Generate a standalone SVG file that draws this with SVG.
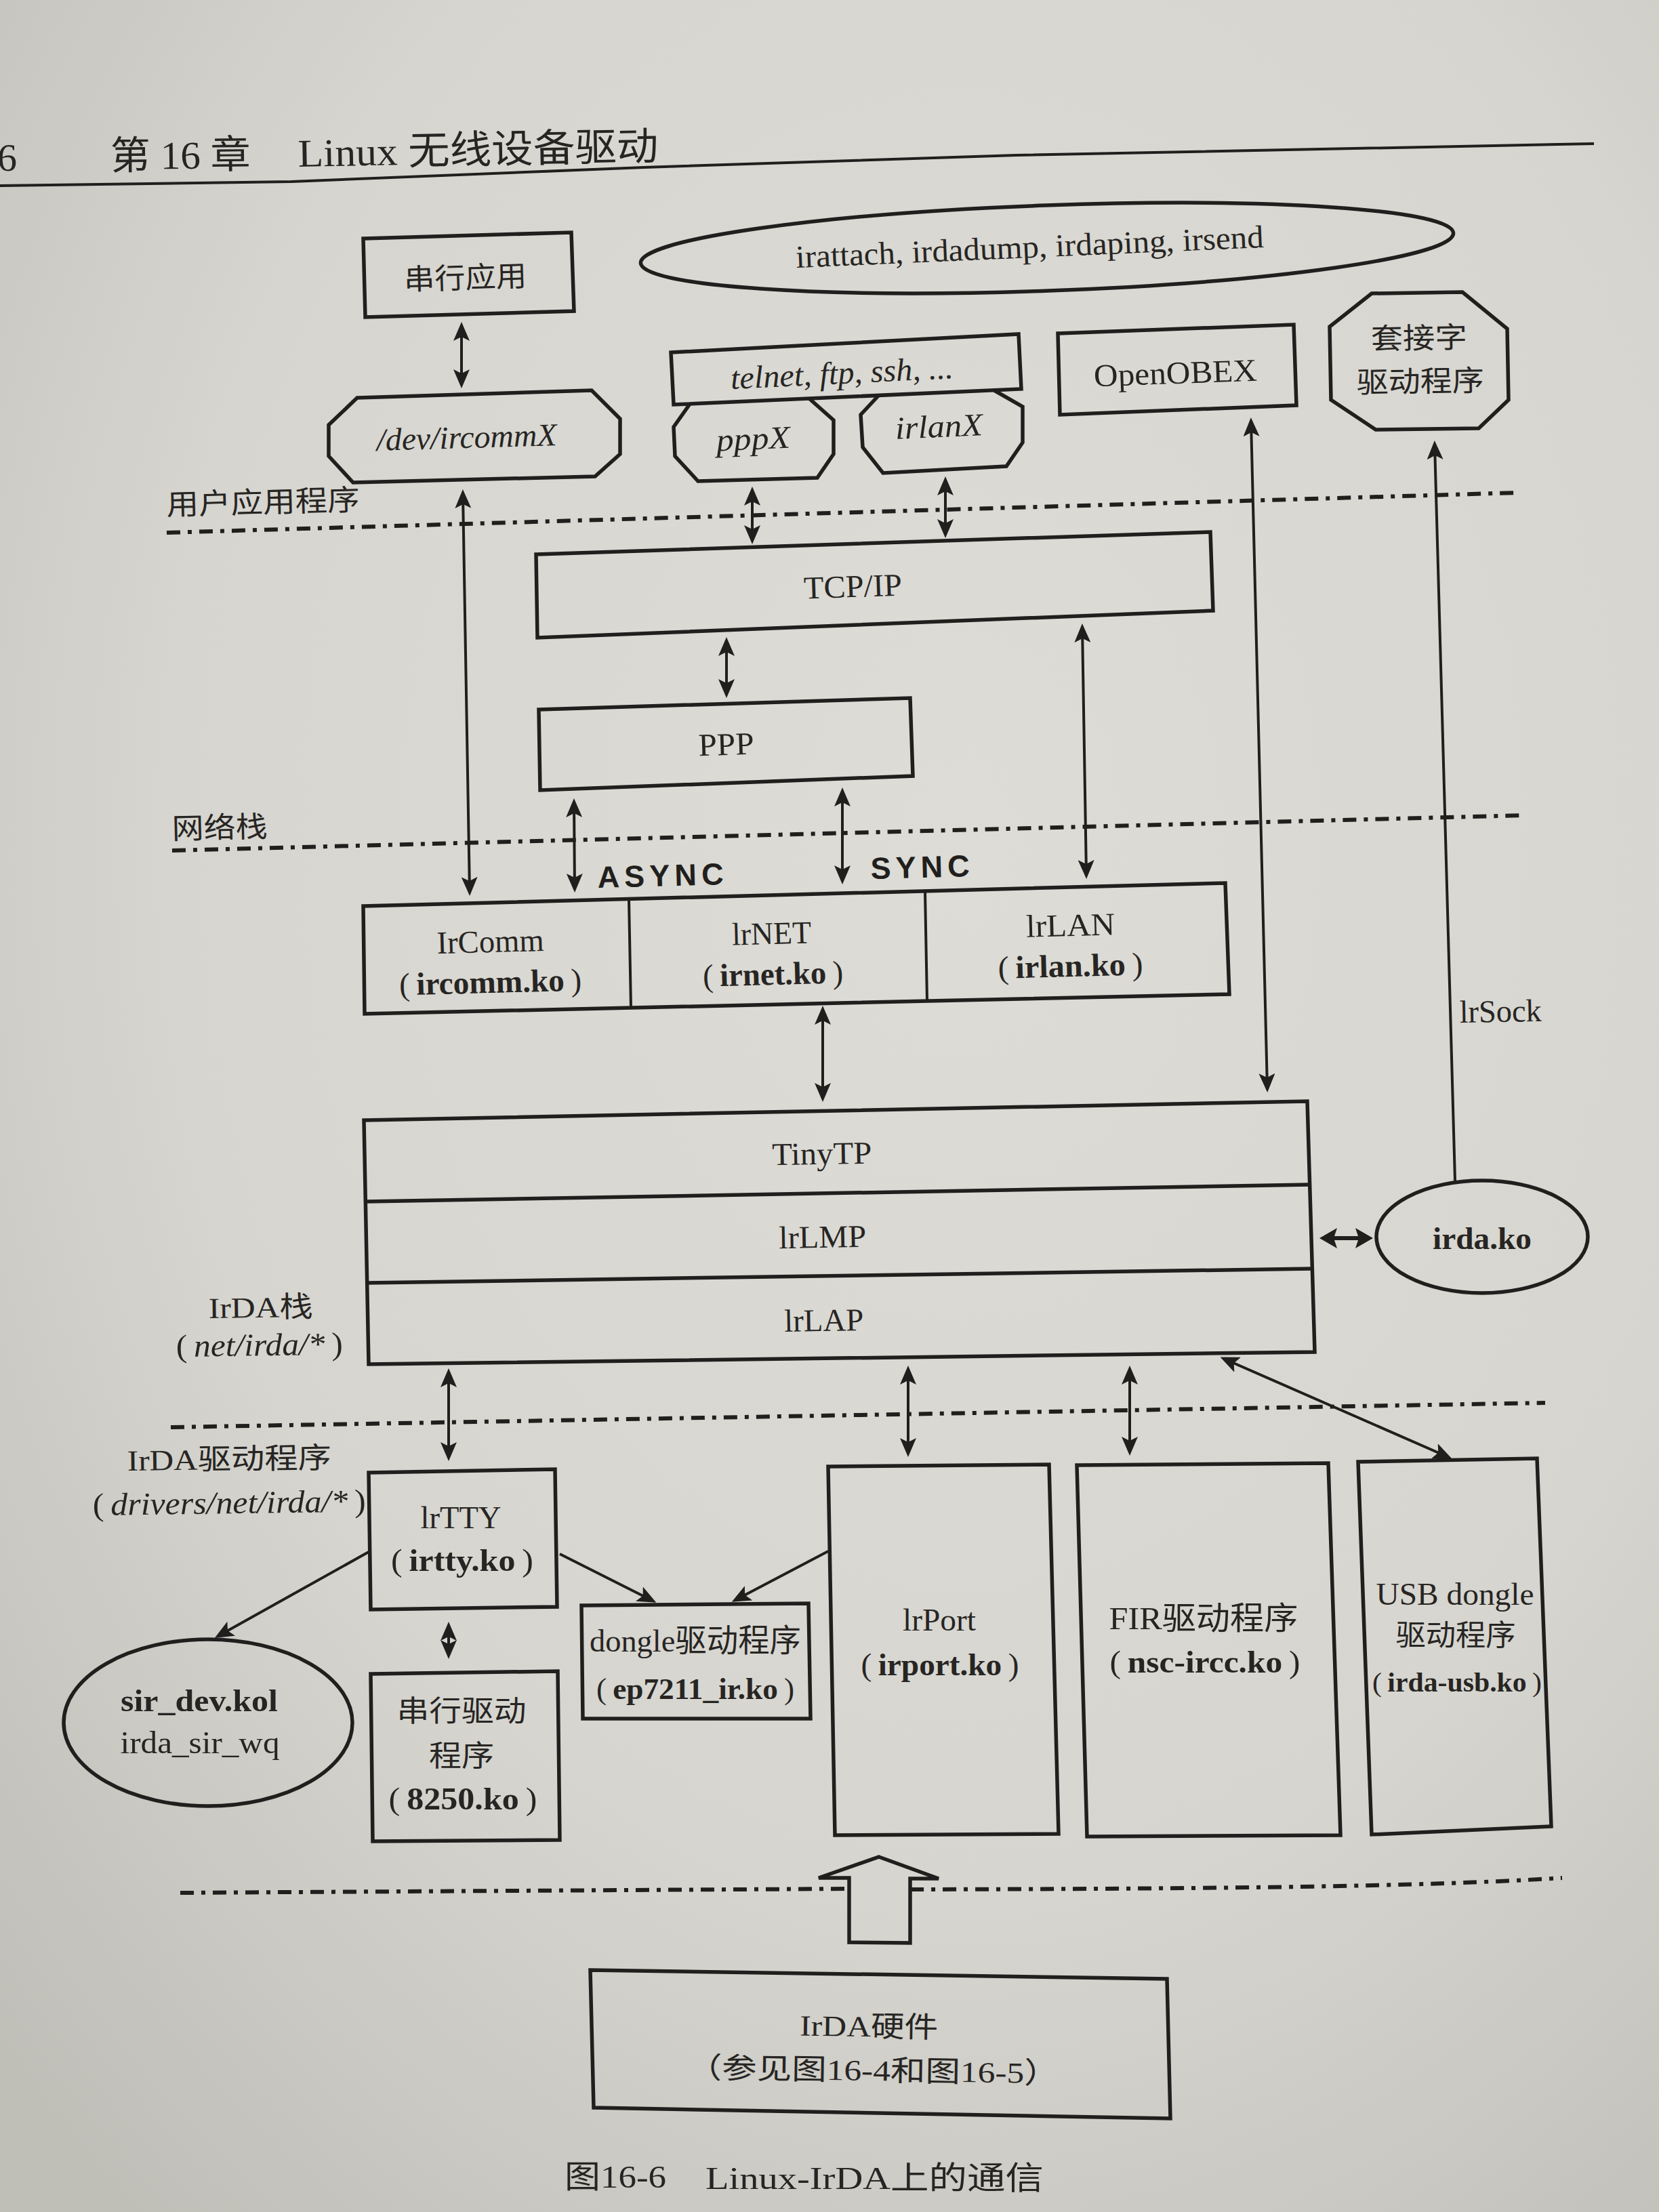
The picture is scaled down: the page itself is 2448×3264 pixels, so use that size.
<svg xmlns="http://www.w3.org/2000/svg" width="2448" height="3264" viewBox="0 0 2448 3264">
  <defs>
    <radialGradient id="paper" cx="0.58" cy="0.38" r="0.8">
      <stop offset="0" stop-color="#dddcd6"/>
      <stop offset="0.6" stop-color="#d6d5cf"/>
      <stop offset="1" stop-color="#bfbeb7"/>
    </radialGradient>
    <marker id="ah" viewBox="0 0 28 24" markerWidth="28" markerHeight="24" refX="22" refY="12" orient="auto-start-reverse" markerUnits="userSpaceOnUse">
      <path d="M0,0 L28,12 L0,24 L6,12 Z" fill="#211f1d"/>
    </marker>
    <marker id="ahb" viewBox="0 0 26 30" markerWidth="26" markerHeight="30" refX="20" refY="15" orient="auto-start-reverse" markerUnits="userSpaceOnUse">
      <path d="M0,0 L26,15 L0,30 L5,15 Z" fill="#211f1d"/>
    </marker>
    <style>
      .ln { fill: none; stroke: #211f1d; stroke-width: 5.5; stroke-linejoin: miter; }
      .thin { fill: none; stroke: #211f1d; stroke-width: 4; }
      .dd { fill: none; stroke: #211f1d; stroke-width: 6; stroke-dasharray: 20 11 6 11; }
      .ar { fill: none; stroke: #211f1d; stroke-width: 4; marker-start: url(#ah); marker-end: url(#ah); }
      .ar1 { fill: none; stroke: #211f1d; stroke-width: 4; marker-end: url(#ah); }
      .arb { fill: none; stroke: #211f1d; stroke-width: 6; marker-start: url(#ahb); marker-end: url(#ahb); }
      .t { font-family: "Liberation Serif", "Noto Sans CJK SC", serif; font-size: 47px; fill: #272523; text-anchor: middle; }
      .c { font-size: 43px; }
      .s { text-anchor: start; }
      .b { font-weight: bold; }
      .i { font-style: italic; }
      .sync { font-family: "Liberation Sans", "DejaVu Sans", sans-serif; font-weight: bold; font-size: 45px; fill: #211f1d; }
      .hd { font-size: 58px; }
    </style>
  </defs>

  <!-- page -->
  <rect x="0" y="0" width="2448" height="3264" fill="url(#paper)"/>

  <!-- running head -->
  <g id="running-head">
    <text class="t s hd" x="-4" y="252">6</text>
    <text class="t s hd" x="163" y="250" textLength="207" lengthAdjust="spacingAndGlyphs" transform="rotate(-0.6 163 250)">第 16 章</text>
    <text class="t s hd" x="440" y="246" textLength="532" lengthAdjust="spacingAndGlyphs" transform="rotate(-1.1 440 246)">Linux 无线设备驱动</text>
    <polyline class="thin" points="0,274 430,268 950,247 1500,229 2352,212"/>
  </g>

  <!-- layer boundaries and their labels -->
  <g id="layers">
    <path class="dd" d="M246,786 L2240,727"/>
    <text class="t s c" x="246" y="760" textLength="285" lengthAdjust="spacingAndGlyphs" transform="rotate(-1.5 246 760)">用户应用程序</text>
    <path class="dd" d="M254,1255 L2248,1203"/>
    <text class="t s c" x="254" y="1238" textLength="141" lengthAdjust="spacingAndGlyphs" transform="rotate(-1.4 254 1238)">网络栈</text>
    <path class="dd" d="M252,2106 L2280,2070"/>
    <text class="t s c" x="308" y="1945" textLength="154" lengthAdjust="spacingAndGlyphs" transform="rotate(-0.8 308 1945)">IrDA栈</text>
    <text class="t s" x="260" y="2002" textLength="246" lengthAdjust="spacingAndGlyphs" transform="rotate(-0.8 260 2002)">(&#8201;<tspan class="i">net/irda/*</tspan>&#8201;)</text>
    <text class="t s c" x="188" y="2170" textLength="301" lengthAdjust="spacingAndGlyphs" transform="rotate(-0.8 188 2170)">IrDA驱动程序</text>
    <text class="t s" x="137" y="2236" textLength="403" lengthAdjust="spacingAndGlyphs" transform="rotate(-0.8 137 2236)">(&#8201;<tspan class="i">drivers/net/irda/*</tspan>&#8201;)</text>
    <path class="dd" d="M266,2793 L1253,2787"/>
    <path class="dd" d="M1343,2788 C1800,2787 2100,2784 2305,2771"/>
  </g>

  <g id="nodes">
    <g id="serial-app">
      <polygon class="ln" points="536,352 843,343 847,459 539,468"/>
      <text class="t c" x="687" y="425" textLength="181" lengthAdjust="spacingAndGlyphs" transform="rotate(-1.8 687 425)">串行应用</text>
    </g>
    <g id="irda-utils">
      <ellipse class="ln" cx="1545" cy="366" rx="600" ry="63" transform="rotate(-2.1 1545 366)"/>
      <text class="t" x="1520" y="380" textLength="691" lengthAdjust="spacingAndGlyphs" transform="rotate(-2.5 1520 380)">irattach, irdadump, irdaping, irsend</text>
    </g>
    <g id="dev-ircomm">
      <polygon class="ln" points="527,587 873,576 915,618 915,670 878,703 521,712 485,673 485,627"/>
      <text class="t i" x="689" y="661" textLength="266" lengthAdjust="spacingAndGlyphs" transform="rotate(-1.7 689 661)">/dev/ircommX</text>
    </g>
    <g id="net-apps">
      <polygon class="ln" points="990,520 1503,493 1507,574 994,597"/>
      <text class="t i" x="1243" y="566" textLength="329" lengthAdjust="spacingAndGlyphs" transform="rotate(-2.8 1243 566)">telnet, ftp, ssh, ...</text>
    </g>
    <g id="pppx">
      <polyline class="ln" points="1018,596 994,630 996,673 1030,710 1206,705 1230,670 1230,620 1194,588"/>
      <text class="t i" x="1112" y="663" textLength="109" lengthAdjust="spacingAndGlyphs" transform="rotate(-2.5 1112 663)">pppX</text>
    </g>
    <g id="irlanx">
      <polyline class="ln" points="1297,583 1270,612 1273,660 1303,698 1485,688 1509,653 1509,600 1467,576"/>
      <text class="t i" x="1386" y="645" textLength="129" lengthAdjust="spacingAndGlyphs" transform="rotate(-2.5 1386 645)">irlanX</text>
    </g>
    <g id="openobex">
      <polygon class="ln" points="1561,492 1909,479 1913,598 1564,612"/>
      <text class="t" x="1735" y="566" textLength="241" lengthAdjust="spacingAndGlyphs" transform="rotate(-2 1735 566)">OpenOBEX</text>
    </g>
    <g id="socket-driver">
      <polygon class="ln" points="2024,433 2158,431 2224,485 2226,590 2182,632 2030,634 1964,590 1962,482"/>
      <text class="t c" x="2094" y="514" textLength="142" lengthAdjust="spacingAndGlyphs" transform="rotate(-1 2094 514)">套接字</text>
      <text class="t c" x="2096" y="578" textLength="188" lengthAdjust="spacingAndGlyphs" transform="rotate(-1 2096 578)">驱动程序</text>
    </g>
    <g id="tcpip">
      <polygon class="ln" points="791,818 1786,785 1790,901 793,941"/>
      <text class="t" x="1259" y="881" textLength="145" lengthAdjust="spacingAndGlyphs" transform="rotate(-1.9 1259 881)">TCP/IP</text>
    </g>
    <g id="ppp">
      <polygon class="ln" points="795,1047 1343,1030 1347,1145 797,1166"/>
      <text class="t" x="1072" y="1114" textLength="82" lengthAdjust="spacingAndGlyphs" transform="rotate(-1.8 1072 1114)">PPP</text>
    </g>
    <g id="sync-labels">
      <text class="sync" x="882" y="1310" textLength="186" lengthAdjust="spacing" transform="rotate(-1.5 882 1310)">ASYNC</text>
      <text class="sync" x="1285" y="1297" textLength="146" lengthAdjust="spacing" transform="rotate(-1.5 1285 1297)">SYNC</text>
    </g>
    <g id="ir-protocols">
      <polygon class="ln" points="536,1337 1808,1303 1814,1467 538,1496"/>
      <g id="ircomm">
        <text class="t" x="724" y="1405" textLength="158" lengthAdjust="spacingAndGlyphs" transform="rotate(-1.5 724 1405)">IrComm</text>
        <text class="t" x="724" y="1465" textLength="269" lengthAdjust="spacingAndGlyphs" transform="rotate(-1.5 724 1465)">(&#8201;<tspan class="b">ircomm.ko</tspan>&#8201;)</text>
      </g>
      <g id="irnet">
        <line class="thin" x1="928" y1="1327" x2="931" y2="1488"/>
        <text class="t" x="1139" y="1393" textLength="117" lengthAdjust="spacingAndGlyphs" transform="rotate(-1.5 1139 1393)">lrNET</text>
        <text class="t" x="1141" y="1453" textLength="207" lengthAdjust="spacingAndGlyphs" transform="rotate(-1.5 1141 1453)">(&#8201;<tspan class="b">irnet.ko</tspan>&#8201;)</text>
      </g>
      <g id="irlan">
        <line class="thin" x1="1365" y1="1316" x2="1368" y2="1477"/>
        <text class="t" x="1580" y="1381" textLength="131" lengthAdjust="spacingAndGlyphs" transform="rotate(-1.5 1580 1381)">lrLAN</text>
        <text class="t" x="1580" y="1441" textLength="214" lengthAdjust="spacingAndGlyphs" transform="rotate(-1.5 1580 1441)">(&#8201;<tspan class="b">irlan.ko</tspan>&#8201;)</text>
      </g>
    </g>
    <g id="irda-stack">
      <polygon class="ln" points="537,1653 1929,1625 1940,1995 544,2013"/>
      <g id="tinytp">
        <text class="t" x="1213" y="1718" textLength="147" lengthAdjust="spacingAndGlyphs" transform="rotate(-1 1213 1718)">TinyTP</text>
      </g>
      <g id="irlmp">
        <line class="ln" x1="540" y1="1773" x2="1933" y2="1748"/>
        <text class="t" x="1214" y="1841" textLength="129" lengthAdjust="spacingAndGlyphs" transform="rotate(-1 1214 1841)">lrLMP</text>
      </g>
      <g id="irlap">
        <line class="ln" x1="542" y1="1893" x2="1937" y2="1872"/>
        <text class="t" x="1216" y="1964" textLength="117" lengthAdjust="spacingAndGlyphs" transform="rotate(-1 1216 1964)">lrLAP</text>
      </g>
    </g>
    <g id="irda-ko">
      <ellipse class="ln" cx="2187" cy="1825" rx="156" ry="83"/>
      <text class="t b" x="2187" y="1843" textLength="146" lengthAdjust="spacingAndGlyphs">irda.ko</text>
    </g>
    <g id="irtty">
      <polygon class="ln" points="544,2173 819,2168 822,2371 547,2375"/>
      <text class="t" x="680" y="2255" textLength="119" lengthAdjust="spacingAndGlyphs">lrTTY</text>
      <text class="t" x="682" y="2318" textLength="210" lengthAdjust="spacingAndGlyphs">(&#8201;<tspan class="b">irtty.ko</tspan>&#8201;)</text>
    </g>
    <g id="serial-driver">
      <polygon class="ln" points="547,2470 823,2466 826,2715 550,2717"/>
      <text class="t c" x="681" y="2540" textLength="191" lengthAdjust="spacingAndGlyphs">串行驱动</text>
      <text class="t c" x="681" y="2606" textLength="96" lengthAdjust="spacingAndGlyphs">程序</text>
      <text class="t" x="683" y="2670" textLength="219" lengthAdjust="spacingAndGlyphs">(&#8201;<tspan class="b">8250.ko</tspan>&#8201;)</text>
    </g>
    <g id="sir-dev">
      <ellipse class="ln" cx="307" cy="2542" rx="213" ry="123"/>
      <text class="t b" x="294" y="2525" textLength="232" lengthAdjust="spacingAndGlyphs">sir_dev.kol</text>
      <text class="t" x="295" y="2587" textLength="235" lengthAdjust="spacingAndGlyphs">irda_sir_wq</text>
    </g>
    <g id="dongle-driver">
      <polygon class="ln" points="858,2369 1193,2366 1196,2536 860,2536"/>
      <text class="t" x="1026" y="2437" textLength="312" lengthAdjust="spacingAndGlyphs">dongle驱动程序</text>
      <text class="t" x="1026" y="2507" style="font-size:44px" textLength="292" lengthAdjust="spacingAndGlyphs">(&#8201;<tspan class="b">ep7211_ir.ko</tspan>&#8201;)</text>
    </g>
    <g id="irport">
      <polygon class="ln" points="1222,2164 1548,2161 1562,2706 1232,2708"/>
      <text class="t" x="1386" y="2406" textLength="108" lengthAdjust="spacingAndGlyphs">lrPort</text>
      <text class="t" x="1387" y="2472" textLength="233" lengthAdjust="spacingAndGlyphs">(&#8201;<tspan class="b">irport.ko</tspan>&#8201;)</text>
    </g>
    <g id="fir-driver">
      <polygon class="ln" points="1589,2162 1960,2159 1978,2708 1604,2710"/>
      <text class="t" x="1776" y="2404" textLength="279" lengthAdjust="spacingAndGlyphs">FIR驱动程序</text>
      <text class="t" x="1778" y="2468" textLength="281" lengthAdjust="spacingAndGlyphs">(&#8201;<tspan class="b">nsc-ircc.ko</tspan>&#8201;)</text>
    </g>
    <g id="usb-dongle">
      <polygon class="ln" points="2004,2157 2268,2152 2289,2695 2024,2707"/>
      <text class="t" x="2147" y="2368" textLength="233" lengthAdjust="spacingAndGlyphs">USB dongle</text>
      <text class="t c" x="2148" y="2428" textLength="177" lengthAdjust="spacingAndGlyphs">驱动程序</text>
      <text class="t" x="2150" y="2496" style="font-size:41px" textLength="250" lengthAdjust="spacingAndGlyphs">(&#8201;<tspan class="b">irda-usb.ko</tspan>&#8201;)</text>
    </g>
    <g id="irda-hw">
      <polygon class="ln" points="871,2907 1722,2920 1727,3126 876,3110"/>
      <text class="t c" x="1282" y="3005" textLength="204" lengthAdjust="spacingAndGlyphs" transform="rotate(0.9 1282 3005)">IrDA硬件</text>
      <text class="t c" x="1288" y="3070" textLength="549" lengthAdjust="spacingAndGlyphs" transform="rotate(0.9 1288 3070)">（参见图16-4和图16-5）</text>
    </g>
  </g>

  <g id="connectors">
    <line class="ar" x1="681" y1="481" x2="681" y2="567"/>
    <line class="ar" x1="683" y1="728" x2="693" y2="1316"/>
    <line class="ar" x1="1110" y1="724" x2="1110" y2="797"/>
    <line class="ar" x1="1395" y1="709" x2="1395" y2="788"/>
    <line class="ar" x1="1846" y1="622" x2="1870" y2="1606"/>
    <line class="ar1" x1="2147" y1="1742" x2="2117" y2="656"/>
    <line class="ar" x1="1072" y1="946" x2="1072" y2="1024"/>
    <line class="ar" x1="1597" y1="926" x2="1603" y2="1291"/>
    <line class="ar" x1="847" y1="1184" x2="848" y2="1311"/>
    <line class="ar" x1="1243" y1="1168" x2="1243" y2="1299"/>
    <line class="ar" x1="1214" y1="1490" x2="1214" y2="1620"/>
    <line class="arb" x1="1953" y1="1827" x2="2020" y2="1827"/>
    <line class="ar" x1="662" y1="2025" x2="662" y2="2150"/>
    <line class="ar" x1="1340" y1="2021" x2="1340" y2="2144"/>
    <line class="ar" x1="1667" y1="2021" x2="1667" y2="2142"/>
    <line class="ar" x1="1806" y1="2005" x2="2137" y2="2150"/>
    <line class="ar" x1="662" y1="2399" x2="662" y2="2442"/>
    <line class="ar1" x1="544" y1="2290" x2="322" y2="2414"/>
    <line class="ar1" x1="826" y1="2293" x2="963" y2="2362"/>
    <line class="ar1" x1="1222" y1="2289" x2="1085" y2="2361"/>
    <polygon id="hw-uplink" class="ln" points="1297,2740 1385,2772 1343,2772 1343,2867 1253,2866 1253,2771 1208,2771"/>
    <text class="t s" x="2154" y="1509" textLength="121" lengthAdjust="spacingAndGlyphs" transform="rotate(-1 2154 1509)">lrSock</text>
  </g>

  <g id="caption">
    <text class="t s" x="833" y="3228" textLength="150" lengthAdjust="spacingAndGlyphs">图16-6</text>
    <text class="t s" x="1041" y="3230" textLength="499" lengthAdjust="spacingAndGlyphs">Linux-IrDA上的通信</text>
  </g>
</svg>
